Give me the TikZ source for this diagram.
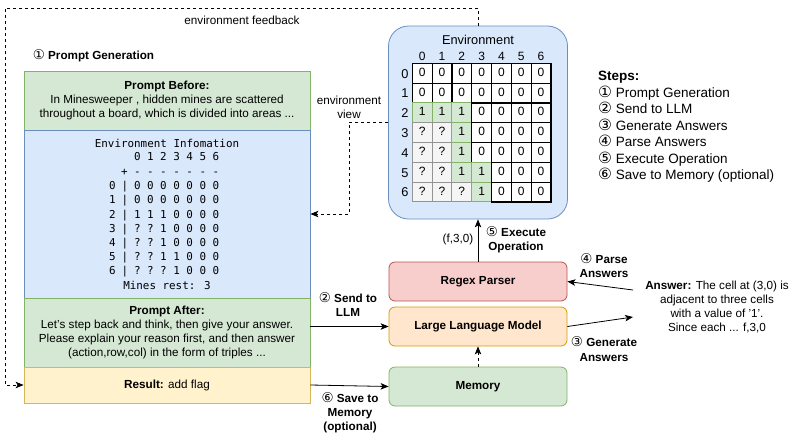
\documentclass[tikz,border=0pt]{standalone}
\usepackage{fontspec}
\setmainfont{Liberation Sans}
\newfontfamily\monofont{DejaVu Sans Mono}
\newfontfamily\circfont[Scale=1.15]{DejaVu Sans}
\usetikzlibrary{arrows.meta}
\definecolor{greenfill}{HTML}{D5E8D4}
\definecolor{greenline}{HTML}{82B366}
\definecolor{bluefill}{HTML}{DAE8FC}
\definecolor{blueline}{HTML}{6C8EBF}
\definecolor{yellowfill}{HTML}{FFF2CC}
\definecolor{yellowline}{HTML}{D6B656}
\definecolor{redfill}{HTML}{F8CECC}
\definecolor{redline}{HTML}{B85450}
\definecolor{orangefill}{HTML}{FFE6CC}
\definecolor{orangeline}{HTML}{D79B00}
\definecolor{grayfill}{HTML}{F5F5F5}
\definecolor{grayline}{HTML}{666666}
\newcommand{\cnum}[1]{{\circfont\mdseries #1}}
\newcommand{\boardrows}{0/{0,0,0,0,0,0,0}, 1/{0,0,0,0,0,0,0}, 2/{1,1,1,0,0,0,0},
	3/{?,?,1,0,0,0,0}, 4/{?,?,1,0,0,0,0}, 5/{?,?,1,1,0,0,0}, 6/{?,?,?,1,0,0,0}}
\tikzset{
	txt/.style={font=\fontsize{11.7}{14}\selectfont},
	panel/.style={txt, draw, line width=0.8pt, minimum width=286pt, inner sep=0pt, align=center},
	stage/.style={txt, draw, line width=0.8pt, rounded corners=6pt, minimum width=178pt, minimum height=39pt, font=\fontsize{11.7}{14}\selectfont\bfseries},
	lbl/.style={txt, align=center, inner sep=0pt},
	steplbl/.style={lbl, font=\fontsize{11.7}{14.2}\selectfont\bfseries},
	mono/.style={font=\monofont\fontsize{10.9}{13}\selectfont, inner sep=0pt, text height=8pt, text depth=0pt},
	celltxt/.style={font=\fontsize{12}{14}\selectfont, inner sep=0pt, text height=6pt, text depth=0pt},
	cellbase/.style={celltxt, minimum size=19.8pt},
	cell0/.style={cellbase, draw=black, fill=white, line width=1.2pt},
	cell1/.style={cellbase, draw=greenline, fill=greenfill, line width=1pt},
	cell?/.style={cellbase, draw=grayline!70, fill=grayfill, line width=1pt},
	flow/.style={-{Stealth[length=8pt, width=6.5pt, inset=2pt]}, line width=0.8pt},
	fb/.style={flow, dashed, dash pattern=on 3pt off 3pt}
}
\begin{document}
\begin{tikzpicture}[x=1pt, y=-1pt]
	\useasboundingbox (0,0) rectangle (805,442);
	% left column
	\node[lbl, font=\fontsize{11.7}{14}\selectfont\bfseries] (gentitle) at (93.5,55.5) {\cnum{①} Prompt Generation};
	\node[panel, fill=greenfill, draw=greenline, minimum height=59pt, font=\fontsize{11.7}{13.6}\selectfont] (prebefore) at (167,100.5)
		{\textbf{Prompt Before:}\\In Minesweeper , hidden mines are scattered\\throughout a board, which is divided into areas ...};
	\node[panel, fill=bluefill, draw=blueline, minimum height=168pt] (envinfo) at (167,214) {};
	\node[panel, fill=greenfill, draw=greenline, minimum height=69pt] (preafter) at (167,332.5)
		{\textbf{Prompt After:}\\Let's step back and think, then give your answer.\\Please explain your reason first, and then answer\\(action,row,col) in the form of triples ...};
	\node[panel, fill=yellowfill, draw=yellowline, minimum height=36pt] (result) at (167,385) {\textbf{Result:} add flag};
	\node[mono] (infotitle) at (167,143) {Environment Infomation};
	\node[mono] (plus) at (124.3,171.5) {+};
	\node[mono] (minesrest) at (167,285) {Mines rest: 3};
	% environment
	\node[draw=blueline, fill=bluefill, line width=0.8pt, rounded corners=20pt, minimum width=179pt, minimum height=193pt] (env) at (478,122.5) {};
	\node[lbl, font=\fontsize{12.8}{15}\selectfont] (envtitle) at (478,40) {Environment};
	\foreach \c in {0,...,6} {
		\node[mono] (hd-\c) at (137.3+13.1*\c,156.7) {\c};
		\node[mono] (dash-\c) at (137.3+13.1*\c,171.5) {-};
		\node[celltxt] (col-\c) at (422.2+19.8*\c,57) {\c};
	}
	\foreach \r/\vals in \boardrows {
		\node[mono] (rl-\r) at (112.3,185.7+14.2*\r) {\r};
		\node[mono] (bar-\r) at (125,185.7+14.2*\r) {|};
		\node[celltxt, font=\fontsize{12.8}{15}\selectfont] (row-\r) at (405,75+19.8*\r) {\r};
		\foreach \v [count=\c from 0] in \vals {
			\node[mono] (mv-\r-\c) at (137.3+13.1*\c,185.7+14.2*\r) {\v};
			\node[cell\v] (cell-\r-\c) at (422.2+19.8*\c,73.2+19.8*\r) {\v};
		}
	}
	% pipeline
	\node[stage, fill=redfill, draw=redline] (parser) at (478,281.5) {Regex Parser};
	\node[stage, fill=orangefill, draw=orangeline] (llm) at (478,326.5) {Large Language Model};
	\node[stage, fill=greenfill, draw=greenline] (memory) at (478,386.5) {Memory};
	\node[lbl, font=\fontsize{11.7}{14.1}\selectfont] (answer) at (717,307)
		{\textbf{Answer:} The cell at (3,0) is\\adjacent to three cells\\with a value of '1'.\\Since each ... f,3,0};
	\node[lbl, align=left, anchor=west, font=\fontsize{13.5}{16.5}\selectfont] (steps) at (598,127)
		{\textbf{Steps:}\\\cnum{①} Prompt Generation\\\cnum{②} Send to LLM\\\cnum{③} Generate Answers\\\cnum{④} Parse Answers\\\cnum{⑤} Execute Operation\\\cnum{⑥} Save to Memory (optional)};
	\coordinate (fbcorner) at (5,8);
	\coordinate (viewbend) at (349,214);
	\coordinate (ansin) at (633,317);
	\coordinate (ansout) at (633,290);
	% connectors
	\draw[fb] (env.north) |- (fbcorner) |- (result.west);
	\node[lbl] (fblbl) at (242,20) {environment feedback};
	\draw[fb] (env.west) -| (viewbend) -- (envinfo.east);
	\node[lbl] (viewlbl) at (349,107) {environment\\view};
	\draw[flow] (llm.west -| preafter.east) -- (llm.west);
	\node[steplbl] (sendlbl) at (348,304.5) {\cnum{②} Send to\\LLM};
	\draw[flow] (result.east) -- (memory.west);
	\node[steplbl] (savelbl) at (350,413) {\cnum{⑥} Save to\\Memory\\(optional)};
	\draw[fb] (memory.north) -- (llm.south);
	\draw[flow] (parser.north) -- (env.south);
	\node[lbl] (oplbl) at (458,239) {(f,3,0)};
	\node[steplbl] (execlbl) at (516,240) {\cnum{⑤} Execute\\Operation};
	\draw[flow] (llm.east) -- (ansin);
	\node[steplbl] (genlbl) at (604,349) {\cnum{③} Generate\\Answers};
	\draw[flow] (ansout) -- (parser.east);
	\node[steplbl] (parselbl) at (604,265.5) {\cnum{④} Parse\\Answers};
\end{tikzpicture}
\end{document}
